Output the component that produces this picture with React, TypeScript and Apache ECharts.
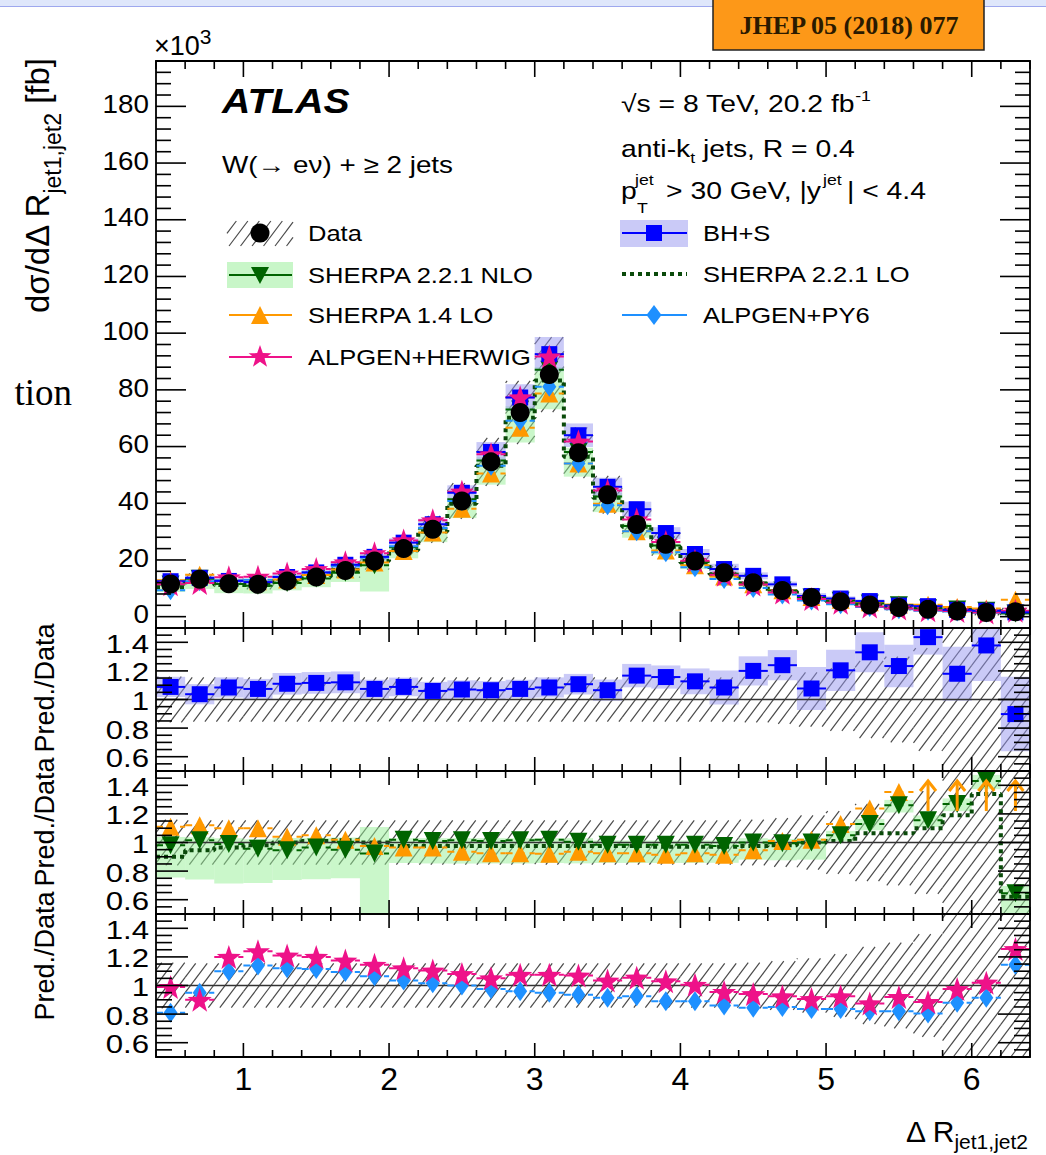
import React, { useEffect, useRef } from "react";
import * as echarts from "echarts";

const FONT = '"Liberation Sans", Arial, Helvetica, sans-serif';
const SERIF = '"Liberation Serif", "Times New Roman", serif';
const W = 1046;
const H = 1155;

// ΔR(jet1,jet2) bin edges
const BIN_EDGES = [0.4, 0.6, 0.8, 1.0, 1.2, 1.4, 1.6, 1.8, 2.0, 2.2, 2.4, 2.6, 2.8, 3.0, 3.2, 3.4, 3.6, 3.8, 4.0, 4.2, 4.4, 4.6, 4.8, 5.0, 5.2, 5.4, 5.6, 5.8, 6.0, 6.2, 6.4];

// Measured dσ/dΔR (×10^3 fb) and relative total uncertainty
const DATA = [11.5, 13.2, 11.6, 11.4, 12.6, 14.0, 16.3, 19.6, 24.0, 30.8, 40.8, 54.6, 72.0, 85.4, 57.8, 43.0, 32.5, 25.5, 19.6, 15.5, 12.0, 9.2, 6.8, 5.3, 4.1, 3.2, 2.6, 2.0, 1.5, 1.7];
const DATA_UNC = [0.16, 0.155, 0.155, 0.155, 0.155, 0.155, 0.155, 0.155, 0.155, 0.155, 0.155, 0.155, 0.155, 0.155, 0.155, 0.155, 0.155, 0.155, 0.155, 0.155, 0.16, 0.17, 0.19, 0.22, 0.27, 0.3, 0.36, 0.55, 0.7, 0.8];

// BlackHat+Sherpa
const BHS = [12.5, 13.7, 12.6, 12.2, 14.0, 15.6, 18.3, 21.1, 26.1, 32.6, 43.7, 58.1, 77.3, 92.6, 64.0, 45.8, 37.9, 29.5, 22.1, 16.8, 14.4, 11.4, 7.3, 6.4, 5.5, 3.9, 3.7, 2.4, 2.1, 1.5];
const BHS_RATIO = [1.088, 1.037, 1.084, 1.074, 1.11, 1.116, 1.12, 1.074, 1.088, 1.06, 1.07, 1.065, 1.074, 1.084, 1.107, 1.065, 1.167, 1.157, 1.127, 1.084, 1.2, 1.24, 1.077, 1.204, 1.33, 1.234, 1.436, 1.18, 1.378, 0.898];
const BHS_UNC = [0.065, 0.068, 0.065, 0.065, 0.068, 0.068, 0.068, 0.06, 0.06, 0.06, 0.06, 0.06, 0.06, 0.065, 0.065, 0.07, 0.07, 0.07, 0.08, 0.11, 0.085, 0.085, 0.14, 0.12, 0.105, 0.12, 0.085, 0.16, 0.18, 0.29];

// SHERPA 2.2.1 NLO
const NLO = [11.3, 13.4, 11.5, 10.9, 11.9, 13.5, 15.5, 18.1, 24.5, 31.1, 41.4, 55.1, 73.1, 87.1, 58.1, 42.4, 32.0, 25.1, 19.3, 15.1, 12.0, 9.2, 6.8, 5.6, 4.6, 4.0, 3.0, 2.5, 2.1, 1.1];
const NLO_RATIO = [0.98, 1.016, 0.99, 0.956, 0.946, 0.965, 0.95, 0.923, 1.02, 1.01, 1.015, 1.01, 1.015, 1.02, 1.005, 0.985, 0.985, 0.985, 0.985, 0.975, 1.0, 0.995, 1.0, 1.05, 1.13, 1.26, 1.155, 1.27, 1.43, 0.645];
const NLO_UNC_DN = [0.23, 0.27, 0.28, 0.25, 0.22, 0.23, 0.21, 0.51, 0.16, 0.155, 0.16, 0.155, 0.16, 0.16, 0.15, 0.13, 0.13, 0.13, 0.13, 0.12, 0.12, 0.12, 0.12, 0.04, 0.04, 0.04, 0.04, 0.04, 0.04, 0.22];
const NLO_UNC_UP = [0.06, 0.02, 0.04, 0.07, 0.09, 0.07, 0.09, 0.2, 0.01, 0.02, 0.015, 0.02, 0.015, 0.01, 0.025, 0.03, 0.03, 0.03, 0.03, 0.04, 0.03, 0.03, 0.03, 0.03, 0.03, 0.03, 0.03, 0.03, 0.03, 0.08];

// SHERPA 1.4 LO
const S14 = [12.8, 14.8, 12.8, 12.5, 13.1, 14.7, 16.6, 19.1, 23.2, 29.7, 38.1, 50.5, 66.6, 78.7, 54.0, 39.8, 30.1, 23.3, 18.1, 14.2, 11.4, 9.3, 6.9, 6.0, 5.1, 4.3, 4.2, 3.4, 2.9, 6.0];
const S14_RATIO = [1.11, 1.12, 1.1, 1.1, 1.04, 1.05, 1.02, 0.975, 0.965, 0.965, 0.935, 0.925, 0.925, 0.922, 0.935, 0.925, 0.925, 0.915, 0.925, 0.915, 0.946, 1.01, 1.02, 1.13, 1.237, 1.353, 1.62, 1.7, 1.9, 3.5];

// SHERPA 2.2.1 LO
const LO = [10.4, 12.5, 11.2, 11.2, 12.6, 14.1, 16.5, 19.6, 23.4, 30.0, 39.8, 53.2, 70.2, 83.3, 56.4, 41.9, 31.7, 24.7, 19.0, 15.0, 11.7, 9.0, 6.8, 5.4, 4.4, 3.4, 2.9, 2.4, 2.0, 1.1];
const LO_RATIO = [0.9, 0.945, 0.965, 0.98, 1.0, 1.01, 1.015, 1.0, 0.975, 0.975, 0.975, 0.975, 0.975, 0.975, 0.975, 0.975, 0.975, 0.97, 0.97, 0.97, 0.975, 0.98, 1.0, 1.01, 1.065, 1.065, 1.1, 1.19, 1.34, 0.62];

// ALPGEN+HERWIG
const AH = [11.4, 11.9, 13.9, 14.1, 15.2, 16.8, 19.2, 22.4, 26.9, 34.0, 44.1, 57.3, 77.4, 91.8, 61.8, 44.5, 34.3, 26.3, 19.7, 14.8, 11.3, 8.5, 6.2, 4.9, 3.6, 2.9, 2.3, 2.0, 1.5, 2.1];
const AH_RATIO = [0.99, 0.9, 1.2, 1.24, 1.21, 1.2, 1.175, 1.145, 1.12, 1.105, 1.08, 1.05, 1.075, 1.075, 1.07, 1.035, 1.055, 1.03, 1.005, 0.955, 0.94, 0.925, 0.905, 0.925, 0.875, 0.92, 0.885, 0.975, 1.02, 1.255];

// ALPGEN+PY6
const AP = [9.3, 12.5, 12.8, 13.0, 14.1, 15.6, 17.8, 20.9, 24.8, 31.3, 40.8, 53.2, 69.1, 81.1, 54.0, 39.3, 30.1, 22.7, 17.4, 13.3, 10.1, 7.8, 5.7, 4.4, 3.4, 2.6, 2.1, 1.8, 1.4, 1.9];
const AP_RATIO = [0.81, 0.95, 1.1, 1.14, 1.12, 1.115, 1.095, 1.065, 1.035, 1.015, 1.0, 0.975, 0.96, 0.95, 0.935, 0.915, 0.925, 0.89, 0.89, 0.86, 0.845, 0.85, 0.835, 0.835, 0.82, 0.82, 0.805, 0.88, 0.915, 1.145];

// Axis tick values and labels
const X_TICKS = [1, 2, 3, 4, 5, 6];
const X_LABELS = ["1", "2", "3", "4", "5", "6"];
const MAIN_Y_TICKS = [0, 20, 40, 60, 80, 100, 120, 140, 160, 180];
const MAIN_Y_LABELS = ["0", "20", "40", "60", "80", "100", "120", "140", "160", "180"];
const RATIO_Y_TICKS = [0.6, 0.8, 1, 1.2, 1.4];
const RATIO_Y_LABELS = ["0.6", "0.8", "1", "1.2", "1.4"];

// Arrow extent (ratio units) for predictions above the ratio range
const ARROW_FROM = 1.22;
const ARROW_TO = 1.43;

const COL = {
  data: "#000000",
  bhs: "#0000ff",
  bhsBand: "rgba(150,150,240,0.5)",
  nlo: "#006400",
  nloBand: "rgba(150,240,150,0.5)",
  s14: "#ff9900",
  lo: "#0a4a0a",
  ah: "#ee1289",
  ap: "#1e90ff",
  hatch: "#4a4a4a",
};

const PLOT_LEFT = 156;
const PLOT_WIDTH = 874;
const PANELS = [
  { top: 61, height: 567, min: -4, max: 196 },
  { top: 628, height: 143, min: 0.5, max: 1.5 },
  { top: 771, height: 143, min: 0.5, max: 1.5 },
  { top: 914, height: 143, min: 0.5, max: 1.5 },
];

const CENTERS = DATA.map((_, i) => (BIN_EDGES[i] + BIN_EDGES[i + 1]) / 2);

function minorTicks(from: number, to: number, step: number, skip: number) {
  const out: number[] = [];
  const n = Math.round((to - from) / step);
  for (let k = 0; k <= n; k++) {
    const v = from + k * step;
    const q = v / skip;
    if (Math.abs(q - Math.round(q)) > 1e-6) out.push(v);
  }
  return out;
}
const X_MINOR = minorTicks(0.4, 6.4, 0.2, 1);
const MAIN_Y_MINOR = minorTicks(-4, 196, 4, 20);
const RATIO_Y_MINOR = minorTicks(0.55, 1.45, 0.05, 0.2);

const HATCH_SLOPE = 1.33;
const HATCH_SPACING = 11.5;

function hatchLines(x0: number, x1: number, y0: number, y1: number, color: string, width: number, z?: number) {
  const out: any[] = [];
  const s = HATCH_SLOPE;
  const cmin = x0 + y0 / s;
  const cmax = x1 + y1 / s;
  for (let k = Math.ceil(cmin / HATCH_SPACING); k * HATCH_SPACING <= cmax; k++) {
    const c = k * HATCH_SPACING;
    const ya = Math.max(y0, s * (c - x1));
    const yb = Math.min(y1, s * (c - x0));
    if (yb - ya > 0.5) {
      const el: any = {
        type: "line",
        shape: { x1: c - ya / s, y1: ya, x2: c - yb / s, y2: yb },
        style: { stroke: color, lineWidth: width },
      };
      if (z !== undefined) el.z = z;
      out.push(el);
    }
  }
  return out;
}

function starPoints(cx: number, cy: number, R: number, r: number) {
  const pts: number[][] = [];
  for (let k = 0; k < 10; k++) {
    const a = -Math.PI / 2 + (k * Math.PI) / 5;
    const rad = k % 2 === 0 ? R : r;
    pts.push([cx + rad * Math.cos(a), cy + rad * Math.sin(a)]);
  }
  return pts;
}
const STAR_SYMBOL =
  "path://" +
  starPoints(50, 50, 50, 20)
    .map((p, i) => (i ? "L" : "M") + p[0].toFixed(2) + " " + p[1].toFixed(2))
    .join(" ") +
  " Z";

// Rectangles per bin (filled band or hatched box), clipped to the panel
function boxSeries(p: number, lo: number[], hi: number[], kind: string, color: string, z: number) {
  return {
    type: "custom",
    xAxisIndex: p,
    yAxisIndex: p,
    z,
    silent: true,
    data: lo.map((l, i) => [BIN_EDGES[i], BIN_EDGES[i + 1], l, hi[i]]),
    renderItem: (params: any, api: any) => {
      const cs = params.coordSys;
      const a = api.coord([api.value(0), api.value(3)]);
      const b = api.coord([api.value(1), api.value(2)]);
      const x0 = Math.max(a[0], cs.x);
      const x1 = Math.min(b[0], cs.x + cs.width);
      const y0 = Math.max(a[1], cs.y);
      const y1 = Math.min(b[1], cs.y + cs.height);
      if (x1 <= x0 || y1 <= y0) return { type: "group", children: [] };
      if (kind === "fill") {
        return { type: "rect", shape: { x: x0, y: y0, width: x1 - x0, height: y1 - y0 }, style: { fill: color } };
      }
      return { type: "group", children: hatchLines(x0, x1, y0, y1, color, 1.2) };
    },
  };
}

// Horizontal bin-width bar of a prediction
function barSeries(p: number, values: number[], color: string, dashed: boolean, z: number) {
  const { min, max } = PANELS[p];
  return {
    type: "custom",
    xAxisIndex: p,
    yAxisIndex: p,
    z,
    silent: true,
    data: values
      .map((v, i) => [BIN_EDGES[i], BIN_EDGES[i + 1], v])
      .filter((d) => d[2] >= min && d[2] <= max),
    renderItem: (params: any, api: any) => {
      const a = api.coord([api.value(0), api.value(2)]);
      const b = api.coord([api.value(1), api.value(2)]);
      return {
        type: "line",
        shape: { x1: a[0], y1: a[1], x2: b[0], y2: b[1] },
        style: { stroke: color, lineWidth: 2, lineDash: dashed ? [7, 5] : null },
      };
    },
  };
}

function markerSeries(p: number, values: number[], symbol: string, size: any, color: string, z: number, rotate = 0) {
  const { min, max } = PANELS[p];
  return {
    type: "scatter",
    xAxisIndex: p,
    yAxisIndex: p,
    z,
    silent: true,
    symbol,
    symbolSize: size,
    symbolRotate: rotate,
    itemStyle: { color, opacity: 1 },
    emphasis: { disabled: true },
    data: values.map((v, i) => [CENTERS[i], v]).filter((d) => d[1] >= min && d[1] <= max),
  };
}

// Histogram drawn as a dotted step line
function stepSeries(p: number, values: number[], z: number) {
  const pts = values.map((v, i) => [BIN_EDGES[i], v]);
  pts.push([BIN_EDGES[BIN_EDGES.length - 1], values[values.length - 1]]);
  return {
    type: "line",
    xAxisIndex: p,
    yAxisIndex: p,
    z,
    silent: true,
    step: "end",
    symbol: "none",
    showSymbol: false,
    data: pts,
    lineStyle: { color: COL.lo, width: 4, type: [4, 4], cap: "butt" },
  };
}

function refLineSeries(p: number) {
  return {
    type: "custom",
    xAxisIndex: p,
    yAxisIndex: p,
    z: 4,
    silent: true,
    data: [[0.4, 1]],
    renderItem: (params: any, api: any) => {
      const cs = params.coordSys;
      const y = api.coord([1, 1])[1];
      return { type: "line", shape: { x1: cs.x, y1: y, x2: cs.x + cs.width, y2: y }, style: { stroke: "#333", lineWidth: 1.6 } };
    },
  };
}

function arrowSeries(p: number, values: number[], color: string) {
  const { max } = PANELS[p];
  return {
    type: "custom",
    xAxisIndex: p,
    yAxisIndex: p,
    z: 12,
    silent: true,
    data: values.map((v, i) => [CENTERS[i], v]).filter((d) => d[1] > max),
    renderItem: (params: any, api: any) => {
      const a = api.coord([api.value(0), ARROW_FROM]);
      const b = api.coord([api.value(0), ARROW_TO]);
      const st = { stroke: color, lineWidth: 3 };
      return {
        type: "group",
        children: [
          { type: "line", shape: { x1: a[0], y1: a[1], x2: b[0], y2: b[1] }, style: st },
          { type: "polyline", shape: { points: [[b[0] - 8, b[1] + 10], [b[0], b[1]], [b[0] + 8, b[1] + 10]] }, style: { ...st, fill: "none" } },
        ],
      };
    },
  };
}

function txtStyle(text: string, size: number, o: any = {}) {
  const align = o.align ?? "left";
  const va = o.va ?? "middle";
  return {
    text,
    fill: o.fill ?? "#000",
    fontSize: size,
    fontFamily: o.family ?? FONT,
    fontWeight: o.weight ?? "normal",
    fontStyle: o.italic ? "italic" : "normal",
    align,
    verticalAlign: va,
    textAlign: align,
    textVerticalAlign: va,
    rich: o.rich,
  };
}

// Text element; sx widens glyphs horizontally
function textEl(x: number, y: number, text: string, size: number, o: any = {}) {
  const el: any = { type: "text", z: o.z ?? 100, x, y, style: txtStyle(text, size, o) };
  if (o.sx) el.scaleX = o.sx;
  if (o.sy) el.scaleY = o.sy;
  if (o.rotation) el.rotation = o.rotation;
  return el;
}

// Frame, ticks and tick labels of one panel
function frameSeries(p: number) {
  const isMain = p === 0;
  const yMajor = isMain ? MAIN_Y_TICKS : RATIO_Y_TICKS;
  const yLabels = isMain ? MAIN_Y_LABELS : RATIO_Y_LABELS;
  const yMinor = isMain ? MAIN_Y_MINOR : RATIO_Y_MINOR;
  const yMaj = isMain ? 30 : 32;
  const yMin = isMain ? 15 : 16;
  const xMaj = isMain ? 16 : 14;
  const xMin = isMain ? 8 : 7;
  const labelSize = 26;
  const labelSx = isMain ? 1.07 : 1.2;
  const labelDy = isMain ? -2 : 1.5;
  const showX = p === PANELS.length - 1;
  return {
    type: "custom",
    xAxisIndex: p,
    yAxisIndex: p,
    z: 50,
    silent: true,
    data: [[1, 1]],
    renderItem: (params: any, api: any) => {
      const cs = params.coordSys;
      const L = cs.x;
      const R = cs.x + cs.width;
      const T = cs.y;
      const B = cs.y + cs.height;
      const ch: any[] = [];
      const seg = (x1: number, y1: number, x2: number, y2: number) =>
        ch.push({ type: "line", shape: { x1, y1, x2, y2 }, style: { stroke: "#000", lineWidth: 1.6 } });
      ch.push({ type: "rect", shape: { x: L, y: T, width: R - L, height: B - T }, style: { fill: "none", stroke: "#000", lineWidth: 1.8 } });
      yMajor.forEach((t, i) => {
        const y = api.coord([1, t])[1];
        seg(L, y, L + yMaj, y);
        seg(R - yMaj, y, R, y);
        ch.push({ type: "text", x: L - 7, y: y + labelDy, scaleX: labelSx, style: txtStyle(yLabels[i], labelSize, { align: "right" }) });
      });
      yMinor.forEach((t) => {
        const y = api.coord([1, t])[1];
        seg(L, y, L + yMin, y);
        seg(R - yMin, y, R, y);
      });
      X_TICKS.forEach((t, i) => {
        const x = api.coord([t, 1])[0];
        seg(x, B, x, B - xMaj);
        seg(x, T, x, T + xMaj);
        if (showX) ch.push({ type: "text", x, y: B + 22, style: txtStyle(X_LABELS[i], 32, { align: "center" }) });
      });
      X_MINOR.forEach((t) => {
        const x = api.coord([t, 1])[0];
        seg(x, B, x, B - xMin);
        seg(x, T, x, T + xMin);
      });
      return { type: "group", children: ch };
    },
  };
}

function legendGraphics() {
  const els: any[] = [];
  const Z = 100;
  const line = (x1: number, y: number, x2: number, color: string, width: number, dash?: number[]) =>
    els.push({ type: "line", z: Z, shape: { x1, y1: y, x2, y2: y }, style: { stroke: color, lineWidth: width, lineDash: dash ?? null } });
  const rect = (x: number, y: number, w: number, h: number, fill: string) =>
    els.push({ type: "rect", z: Z, shape: { x, y, width: w, height: h }, style: { fill } });
  const poly = (pts: number[][], fill: string) => els.push({ type: "polygon", z: Z + 1, shape: { points: pts }, style: { fill } });
  const label = (x: number, y: number, t: string) => els.push(textEl(x, y, t, 22, { sx: 1.16 }));

  const lx0 = 227, lx1 = 293, lc = 260;
  const rx0 = 620, rx1 = 688, rc = 654;

  // Data
  els.push(...hatchLines(lx0, lx1, 221, 246, COL.hatch, 1.2, Z));
  els.push({ type: "circle", z: Z + 1, shape: { cx: lc, cy: 233, r: 9.5 }, style: { fill: COL.data } });
  label(308, 233, "Data");
  // SHERPA 2.2.1 NLO
  rect(lx0, 262, lx1 - lx0, 26, "rgb(200,246,200)");
  line(lx0 + 2, 275, lx1 - 1, COL.nlo, 2.2);
  poly([[lc - 9, 267], [lc + 9, 267], [lc, 284]], COL.nlo);
  label(308, 275, "SHERPA 2.2.1 NLO");
  // SHERPA 1.4 LO
  line(lx0 + 2, 315, lx1 - 1, COL.s14, 2.2);
  poly([[lc - 9, 324], [lc + 9, 324], [lc, 306]], COL.s14);
  label(308, 315, "SHERPA 1.4 LO");
  // ALPGEN+HERWIG
  line(lx0 + 2, 357, lx1 - 1, COL.ah, 2.2);
  poly(starPoints(lc, 357, 12, 4.8), COL.ah);
  label(308, 357, "ALPGEN+HERWIG");
  // BH+S
  rect(rx0, 220, rx1 - rx0, 27, "rgb(202,202,247)");
  line(rx0 + 2, 233, rx1 - 1, COL.bhs, 2.2);
  rect(rc - 8, 225, 16, 16, COL.bhs);
  label(703, 233, "BH+S");
  // SHERPA 2.2.1 LO
  line(rx0 + 2, 274, rx1 - 1, COL.lo, 4, [4, 4]);
  label(703, 274, "SHERPA 2.2.1 LO");
  // ALPGEN+PY6
  line(rx0 + 2, 315, rx1 - 1, COL.ap, 2.2);
  poly([[rc, 305], [rc + 7.5, 315], [rc, 325], [rc - 7.5, 315]], COL.ap);
  label(703, 315, "ALPGEN+PY6");
  return els;
}

function pageGraphics() {
  const Z = 100;
  const els: any[] = [];
  // header strip and publication badge
  els.push({ type: "rect", z: Z, shape: { x: 0, y: 0, width: W, height: 6 }, style: { fill: "#dfe7fb" } });
  els.push({ type: "line", z: Z, shape: { x1: 0, y1: 6.5, x2: W, y2: 6.5 }, style: { stroke: "#9ea8ee", lineWidth: 1.2 } });
  els.push({ type: "rect", z: Z + 1, shape: { x: 713, y: -2, width: 271, height: 52 }, style: { fill: "#fd9818", stroke: "#222", lineWidth: 1.5 } });
  els.push(textEl(849, 25, "JHEP 05 (2018) 077", 26, { z: Z + 2, align: "center", weight: "bold", family: SERIF, fill: "#2a1a00" }));
  els.push(textEl(72, 392, "tion", 37, { align: "right", family: SERIF }));

  // ×10^3 multiplier
  els.push(textEl(154, 46, "×10{sup|3}", 27, { rich: { sup: { fontSize: 21, fontFamily: FONT, padding: [0, 0, 20, 0] } } }));

  // plot annotations
  els.push(textEl(222, 101, "ATLAS", 35, { weight: "bold", italic: true, sx: 1.12 }));
  els.push(textEl(222, 165, "W(→ eν) + ≥ 2 jets", 24, { sx: 1.16 }));
  els.push(textEl(621, 104, "√s = 8 TeV, 20.2 fb{sup|-1}", 24, { sx: 1.18, rich: { sup: { fontSize: 15, fontFamily: FONT, padding: [0, 0, 17, 0] } } }));
  els.push(textEl(621, 149, "anti-k{sub|t} jets, R = 0.4", 24, { sx: 1.18, rich: { sub: { fontSize: 15, fontFamily: FONT, padding: [17, 0, 0, 0] } } }));
  els.push(textEl(621, 191, "p", 24, { sx: 1.18 }));
  els.push(textEl(635, 180, "jet", 15, { sx: 1.18 }));
  els.push(textEl(637, 208, "T", 15, { sx: 1.18 }));
  els.push(textEl(666, 191, "> 30 GeV, |y", 24, { sx: 1.18 }));
  els.push(textEl(823, 180, "jet", 15, { sx: 1.18 }));
  els.push(textEl(847, 191, "| < 4.4", 24, { sx: 1.18 }));

  // axis titles
  els.push(
    textEl(37, 58, "dσ/dΔ R{s|jet1,jet2} [fb]", 33, {
      align: "right",
      rotation: Math.PI / 2,
      rich: { s: { fontSize: 23, fontFamily: FONT, padding: [32, 0, 0, 0] } },
    })
  );
  [688, 822, 956].forEach((yc) => {
    els.push(textEl(45, yc, "Pred./Data", 27, { align: "center", rotation: Math.PI / 2 }));
  });
  els.push(
    textEl(1028, 1131, "Δ R{s|jet1,jet2}", 30, {
      align: "right",
      rich: { s: { fontSize: 21, fontFamily: FONT, padding: [20, 0, 0, 0] } },
    })
  );
  return els.concat(legendGraphics());
}

function buildOption() {
  const grid = PANELS.map((p) => ({ left: PLOT_LEFT, top: p.top, width: PLOT_WIDTH, height: p.height, show: false }));
  const xAxis = PANELS.map((_, i) => ({ type: "value", gridIndex: i, min: 0.4, max: 6.4, show: false }));
  const yAxis = PANELS.map((p, i) => ({ type: "value", gridIndex: i, min: p.min, max: p.max, show: false }));

  const hatchLo = DATA_UNC.map((u) => 1 - u);
  const hatchHi = DATA_UNC.map((u) => 1 + u);
  const series: any[] = [
    // main panel
    boxSeries(0, DATA.map((d, i) => d * (1 - DATA_UNC[i])), DATA.map((d, i) => d * (1 + DATA_UNC[i])), "hatch", COL.hatch, 1),
    boxSeries(0, NLO.map((v, i) => v * (1 - NLO_UNC_DN[i])), NLO.map((v, i) => v * (1 + NLO_UNC_UP[i])), "fill", COL.nloBand, 2),
    boxSeries(0, BHS.map((v, i) => v * (1 - BHS_UNC[i])), BHS.map((v, i) => v * (1 + BHS_UNC[i])), "fill", COL.bhsBand, 2),
    stepSeries(0, LO, 3),
    barSeries(0, S14, COL.s14, true, 5),
    barSeries(0, NLO, COL.nlo, true, 5),
    barSeries(0, AP, COL.ap, true, 5),
    barSeries(0, AH, COL.ah, true, 5),
    barSeries(0, BHS, COL.bhs, false, 5),
    markerSeries(0, S14, "triangle", 18, COL.s14, 6),
    markerSeries(0, NLO, "triangle", 18, COL.nlo, 7, 180),
    markerSeries(0, AP, "diamond", [14, 20], COL.ap, 8),
    markerSeries(0, BHS, "rect", 16, COL.bhs, 9),
    markerSeries(0, AH, STAR_SYMBOL, 24, COL.ah, 10),
    markerSeries(0, DATA, "circle", 19, COL.data, 11),

    // ratio: BH+S
    boxSeries(1, hatchLo, hatchHi, "hatch", COL.hatch, 1),
    boxSeries(1, BHS_RATIO.map((r, i) => r * (1 - BHS_UNC[i])), BHS_RATIO.map((r, i) => r * (1 + BHS_UNC[i])), "fill", COL.bhsBand, 2),
    refLineSeries(1),
    barSeries(1, BHS_RATIO, COL.bhs, false, 5),
    markerSeries(1, BHS_RATIO, "rect", 16, COL.bhs, 9),

    // ratio: SHERPA
    boxSeries(2, hatchLo, hatchHi, "hatch", COL.hatch, 1),
    boxSeries(2, NLO_RATIO.map((r, i) => r * (1 - NLO_UNC_DN[i])), NLO_RATIO.map((r, i) => r * (1 + NLO_UNC_UP[i])), "fill", COL.nloBand, 2),
    refLineSeries(2),
    stepSeries(2, LO_RATIO, 3),
    barSeries(2, S14_RATIO, COL.s14, true, 5),
    barSeries(2, NLO_RATIO, COL.nlo, true, 5),
    markerSeries(2, S14_RATIO, "triangle", 18, COL.s14, 6),
    markerSeries(2, NLO_RATIO, "triangle", 18, COL.nlo, 7, 180),
    arrowSeries(2, S14_RATIO, COL.s14),

    // ratio: ALPGEN
    boxSeries(3, hatchLo, hatchHi, "hatch", COL.hatch, 1),
    refLineSeries(3),
    barSeries(3, AP_RATIO, COL.ap, true, 5),
    barSeries(3, AH_RATIO, COL.ah, true, 5),
    markerSeries(3, AP_RATIO, "diamond", [14, 20], COL.ap, 8),
    markerSeries(3, AH_RATIO, STAR_SYMBOL, 24, COL.ah, 10),

    frameSeries(0),
    frameSeries(1),
    frameSeries(2),
    frameSeries(3),
  ];

  return {
    animation: false,
    backgroundColor: "#ffffff",
    grid,
    xAxis,
    yAxis,
    series,
    graphic: { elements: pageGraphics() },
  };
}

export default function App() {
  const ref = useRef<HTMLDivElement>(null);
  useEffect(() => {
    if (!ref.current) return;
    const chart = echarts.init(ref.current, undefined, { renderer: "svg" });
    chart.setOption(buildOption() as any);
    return () => chart.dispose();
  }, []);
  return <div ref={ref} style={{ position: "absolute", left: 0, top: 0, width: W, height: H }} />;
}
